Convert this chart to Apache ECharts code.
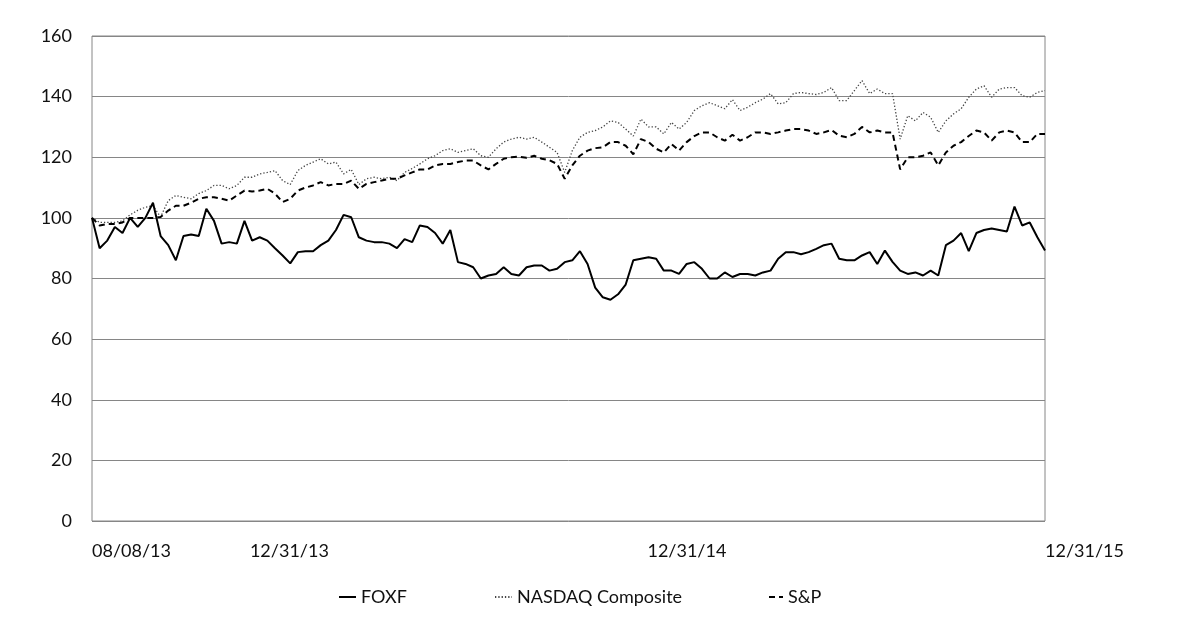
<!DOCTYPE html>
<html>
<head>
<meta charset="utf-8">
<title>FOXF vs NASDAQ Composite vs S&amp;P</title>
<script src="https://cdn.jsdelivr.net/npm/echarts@6/dist/echarts.min.js"></script>
<style>
  html, body { margin: 0; padding: 0; background: #fff; }
  #chart { width: 1186px; height: 618px; }
</style>
</head>
<body>
<div id="chart"></div>
<script>
// weekly samples, first one on 08/08/13, last one on 12/31/15
var startDay = [2013, 7, 8];
var tickDates = ['2013-08-08', '2013-12-31', '2014-12-31', '2015-12-31'];

var foxf = [
  100, 90, 92.5, 97, 95, 100, 97, 100, 105, 94,
  91, 86, 94, 94.5, 94, 103, 99, 91.5, 92, 91.5,
  99, 92.5, 93.6, 92.5, 90, 87.6, 85, 88.7, 89, 89,
  91, 92.5, 96, 101, 100.2, 93.6, 92.5, 92, 92, 91.5,
  90, 93, 92, 97.5, 97, 95, 91.5, 96, 85.4, 84.8,
  83.7, 80, 81, 81.5, 83.7, 81.5, 81, 83.7, 84.3, 84.3,
  82.6, 83.2, 85.4, 86, 89, 84.8, 77, 73.8, 73, 74.8,
  78, 86, 86.5, 87, 86.5, 82.6, 82.6, 81.5, 84.8, 85.4,
  83.2, 80, 80, 82, 80.5, 81.5, 81.5, 81, 82, 82.6,
  86.5, 88.7, 88.7, 88, 88.7, 89.8, 91, 91.5, 86.5, 86,
  86, 87.6, 88.7, 84.8, 89.2, 85.5, 82.6, 81.5, 82, 81,
  82.6, 81, 91, 92.5, 95, 89, 95, 96, 96.5, 96,
  95.5, 103.7, 97.5, 98.5, 93.6, 89.2
];

var nasdaq = [
  100, 98.5, 98.5, 98.5, 99, 101, 102.5, 103.5, 104, 100.3,
  105.7, 107.4, 106.8, 106.3, 108, 109, 110.7, 110.7, 109.6, 110.7,
  113.4, 113.4, 114.5, 115, 115.6, 112.3, 111, 115.6, 117.3, 118.4,
  119.5, 117.8, 118.4, 114.5, 116, 111, 112.9, 113.4, 112.9, 113.4,
  112.3, 115, 116.3, 117.8, 119.5, 120.5, 122.2, 122.8, 121.6, 122.2,
  122.8, 120.5, 120, 122.8, 125, 126, 126.6, 126, 126.6, 125,
  123.3, 121.6, 115, 122.2, 126.6, 128.2, 128.8, 130, 132, 131.5,
  129.3, 127, 132.6, 130, 130, 127.7, 131.5, 129.3, 131.5, 135.4,
  137, 138, 137, 136, 139, 135.4, 136.5, 138, 139.2, 141,
  137.6, 138, 141, 141.4, 141, 140.7, 141.4, 143, 138.7, 138.7,
  142, 145.3, 141, 142.5, 141, 141, 126, 133.7, 132, 134.8,
  133.2, 128.2, 132, 134.3, 136, 139.8, 142.5, 143.6, 139.8, 142.5,
  143, 143, 140.3, 139.8, 141.4, 142
];

var sp = [
  100, 97.5, 98, 98, 98.5, 100, 100, 100, 100, 100.3,
  102.4, 104, 104, 105, 106.3, 106.8, 106.8, 106.3, 105.7, 107.4,
  109, 108.7, 109, 109.6, 108, 105.2, 106.3, 109, 110, 110.7,
  111.8, 110.7, 111.2, 111.2, 112.3, 109.6, 111.2, 111.8, 112.3, 112.9,
  112.9, 114, 115, 116, 116, 117.3, 117.8, 117.8, 118.4, 118.9,
  118.9, 117.3, 116, 117.8, 119.5, 120, 120.2, 119.8, 120.5, 119.5,
  119, 117.8, 112.9, 117.3, 120.5, 122.2, 123, 123.3, 125, 125,
  123.8, 121, 126, 125, 122.8, 121.6, 124.4, 122.2, 125, 127,
  128.2, 128.2, 126.6, 125.5, 127.4, 125.5, 126.6, 128.2, 128.2, 127.7,
  128.2, 128.8, 129.3, 129.3, 128.8, 127.7, 128.2, 129, 127.1, 126.6,
  127.7, 130, 128.2, 128.8, 128.2, 128.2, 116, 120, 120, 120.5,
  121.6, 117.3, 121.6, 123.8, 125, 127, 128.8, 128.2, 125.5, 128.2,
  128.8, 128.2, 125, 125, 127.7, 127.7
];

var dates = foxf.map(function (v, i) {
  return new Date(startDay[0], startDay[1], startDay[2] + 7 * i).getTime();
});

function toTime(s) {
  var p = s.split('-');
  return new Date(+p[0], +p[1] - 1, +p[2]).getTime();
}
function pad(n) { return (n < 10 ? '0' : '') + n; }
function pairs(vals) {
  return vals.map(function (v, i) { return [dates[i], v]; });
}

var font = 'Lato';
var gridColor = '#868686';

function legendAt(name, left, width) {
  return {
    data: [name], left: left, top: 583,
    itemWidth: width, itemHeight: 14,
    itemStyle: { opacity: 0 },
    textStyle: { fontFamily: font, fontSize: 18, color: '#111' }
  };
}

var myChart = echarts.init(document.getElementById('chart'));
var option = {
  animation: false,
  backgroundColor: '#fff',
  grid: {
    left: 92, right: 141, top: 36, bottom: 97,
    show: true, borderColor: gridColor, borderWidth: 1
  },
  legend: [
    legendAt('FOXF', 333, 17),
    legendAt('NASDAQ Composite', 489, 17),
    legendAt('S&P', 763, 14)
  ],
  xAxis: {
    type: 'value',
    min: toTime(tickDates[0]),
    max: toTime(tickDates[tickDates.length - 1]),
    axisLine: { show: false },
    axisTick: { show: false },
    splitLine: { show: false },
    axisLabel: {
      customValues: tickDates.map(toTime),
      align: 'left',
      margin: 21,
      fontFamily: font,
      fontSize: 18,
      color: '#111',
      formatter: function (v) {
        var d = new Date(v);
        return pad(d.getMonth() + 1) + '/' + pad(d.getDate()) + '/' + pad(d.getFullYear() % 100);
      }
    }
  },
  yAxis: {
    type: 'value',
    min: 0, max: 160, interval: 20,
    axisLine: { show: false },
    axisTick: { show: false },
    splitLine: { lineStyle: { color: gridColor, width: 1 } },
    axisLabel: { margin: 20, fontFamily: font, fontSize: 18, color: '#111' }
  },
  series: [
    {
      name: 'FOXF', type: 'line', data: pairs(foxf),
      symbol: 'none', z: 4,
      lineStyle: { color: '#000', width: 2 },
      itemStyle: { color: '#000' }
    },
    {
      name: 'NASDAQ Composite', type: 'line', data: pairs(nasdaq),
      symbol: 'none', z: 2,
      lineStyle: { color: '#444', width: 1.3, type: [1.3, 2] },
      itemStyle: { color: '#444' }
    },
    {
      name: 'S&P', type: 'line', data: pairs(sp),
      symbol: 'none', z: 3,
      lineStyle: { color: '#000', width: 2, type: [6, 4] },
      itemStyle: { color: '#000' }
    }
  ]
};
myChart.setOption(option);
</script>
</body>
</html>
